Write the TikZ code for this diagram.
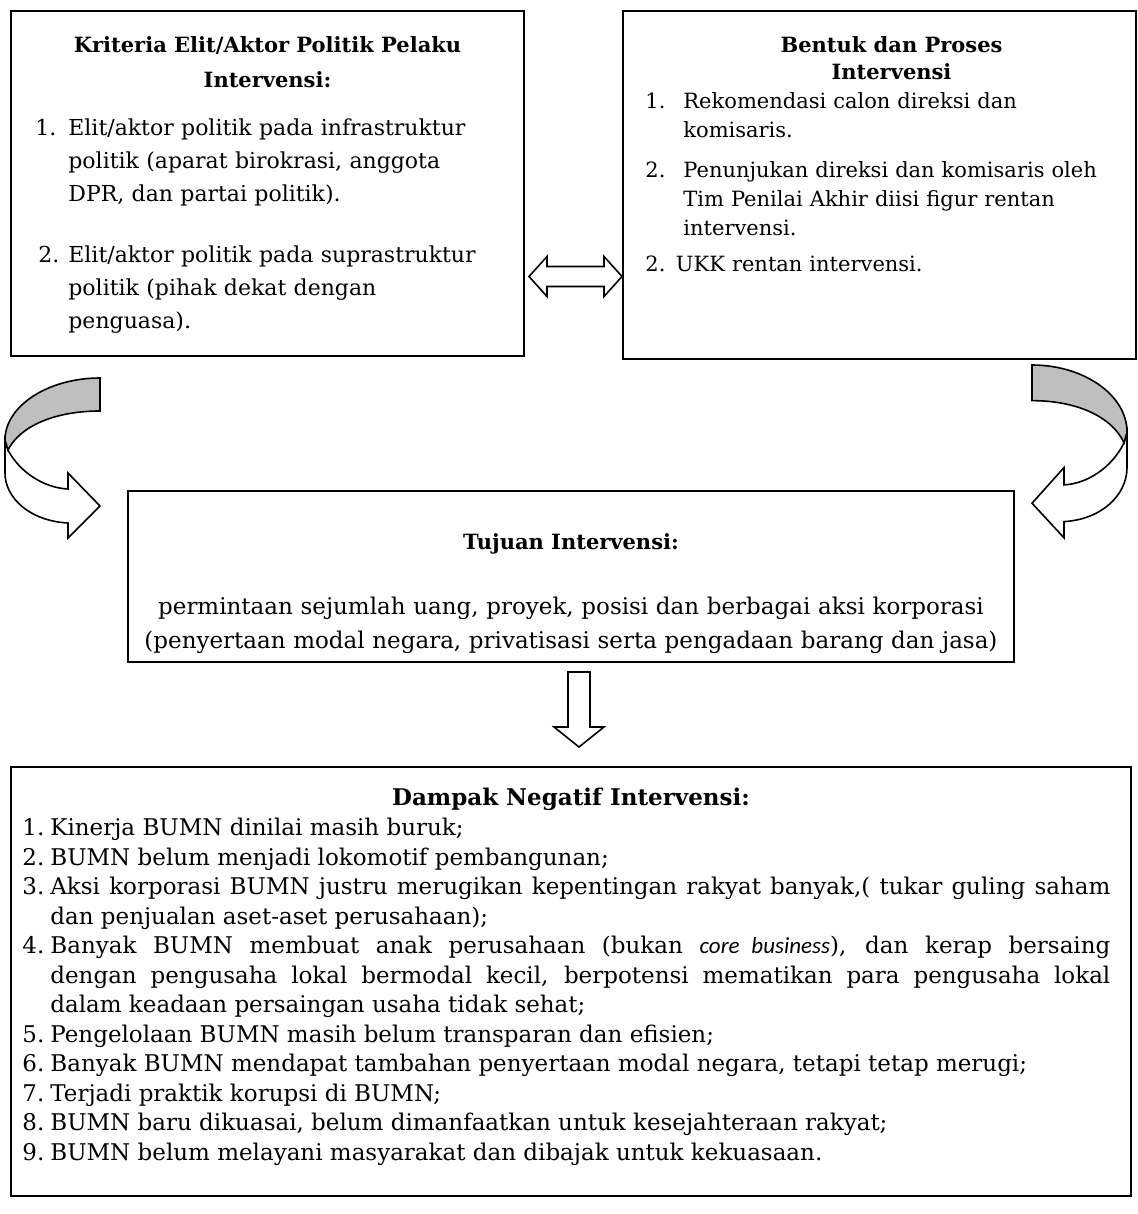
\documentclass[tikz,border=0pt]{standalone}
\usepackage{fontspec}
\setmainfont{DejaVu Serif}
\setsansfont{Carlito}
\usetikzlibrary{positioning}

% numbered line with hanging indent: width, number, text
\newcommand{\numline}[3]{\par\noindent\hangindent=#1\hangafter=1\makebox[#1][l]{#2}#3\par}
% curved 3d arrow, tail at (0,0), head pointing right
\newcommand{\bentarrow}{%
 \filldraw[fill=white] (-92,72) .. controls (-80,95) and (-55,110) .. (-32,111) -- (-32,95) -- (0,128)
   -- (-32,160) -- (-32,145) .. controls (-70,143) and (-95,120) .. (-95,95) -- (-95,62) -- cycle;
 \filldraw[fill=black!25] (0,0) .. controls (-52,0) and (-95,28) .. (-95,62) -- (-92,72)
   .. controls (-80,48) and (-45,33) .. (0,33) -- cycle;
}

\begin{document}
\begin{tikzpicture}[x=0.5pt,y=-0.5pt,
 box/.style={draw, line width=1pt, anchor=north west, inner sep=0pt},
 heading/.style={font=\bfseries\fontsize{10.5}{13.5}\selectfont, align=center, inner sep=0pt, anchor=north},
 body/.style={inner sep=0pt, anchor=north west, align=left},
 blockarrow/.style={draw, line width=0.8pt, fill=white}]
\useasboundingbox (0,0) rectangle (1137,1214);

% the four boxes
\node[box, minimum width=256.5pt, minimum height=172.5pt] (kriteria) at (10,10) {};
\node[box, minimum width=256.5pt, minimum height=174pt] (bentuk) at (622,10) {};
\node[box, minimum width=443pt, minimum height=85.5pt] (tujuan) at (127,490) {};
\node[box, minimum width=560pt, minimum height=214.5pt] (dampak) at (10,766) {};

% upper left box
\node[heading, font=\bfseries\fontsize{10.5}{17.5}\selectfont, below=13pt of kriteria.north] (kriteriahead)
 {Kriteria Elit/Aktor Politik Pelaku\\Intervensi:};
\node[body, text width=235pt, font=\fontsize{11}{16.5}\selectfont] (kriterialist)
 at ([shift={(25,92)}]kriteria.north west) {%
 \numline{16.5pt}{1.}{Elit/aktor politik pada infrastruktur\newline politik (aparat birokrasi, anggota\newline DPR, dan partai politik).}
 \vspace{14pt}
 \numline{16.5pt}{\hspace{1.5pt}2.}{Elit/aktor politik pada suprastruktur\newline politik (pihak dekat dengan\newline penguasa).}};

% upper right box
\node[heading, xshift=6pt, below=13pt of bentuk.north] (bentukhead) {Bentuk dan Proses\\Intervensi};
\node[body, text width=245pt, font=\fontsize{10.5}{14.5}\selectfont] (bentuklist)
 at ([shift={(23,69)}]bentuk.north west) {%
 \numline{19pt}{1.}{Rekomendasi calon direksi dan\newline komisaris.}
 \vspace{5.5pt}
 \numline{19pt}{2.}{Penunjukan direksi dan komisaris oleh\newline Tim Penilai Akhir diisi figur rentan\newline intervensi.}
 \vspace{3.5pt}
 \noindent 2. UKK rentan intervensi.};

% middle box
\node[heading, below=21.5pt of tujuan.north] (tujuanhead) {Tujuan Intervensi:};
\node[body, align=center, text width=443pt, font=\fontsize{11.5}{17}\selectfont, below=53.5pt of tujuan.north] (tujuanbody)
 {permintaan sejumlah uang, proyek, posisi dan berbagai aksi korporasi\\(penyertaan modal negara, privatisasi serta pengadaan barang dan jasa)};

% lower box
\node[heading, font=\bfseries\fontsize{11.5}{14.75}\selectfont, below=11pt of dampak.north] (dampakhead) {Dampak Negatif Intervensi:};
\node[body, align=justify, text width=544pt, font=\fontsize{11.5}{14.75}\selectfont] (dampaklist)
 at ([shift={(12,40)}]dampak.north west) {%
 \numline{14pt}{1.}{Kinerja BUMN dinilai masih buruk;}
 \numline{14pt}{2.}{BUMN belum menjadi lokomotif pembangunan;}
 \numline{14pt}{3.}{Aksi korporasi BUMN justru merugikan kepentingan rakyat banyak,( tukar guling saham\linebreak
  dan penjualan aset-aset perusahaan);}
 \numline{14pt}{4.}{Banyak BUMN membuat anak perusahaan (bukan \textsf{\itshape core business}), dan kerap bersaing\linebreak
  dengan pengusaha lokal bermodal kecil, berpotensi mematikan para pengusaha lokal\linebreak
  dalam keadaan persaingan usaha tidak sehat;}
 \numline{14pt}{5.}{Pengelolaan BUMN masih belum transparan dan efisien;}
 \numline{14pt}{6.}{Banyak BUMN mendapat tambahan penyertaan modal negara, tetapi tetap merugi;}
 \numline{14pt}{7.}{Terjadi praktik korupsi di BUMN;}
 \numline{14pt}{8.}{BUMN baru dikuasai, belum dimanfaatkan untuk kesejahteraan rakyat;}
 \numline{14pt}{9.}{BUMN belum melayani masyarakat dan dibajak untuk kekuasaan.}};

% double arrow between the upper boxes
\coordinate (dbl) at ([shift={(4,93)}]kriteria.east);
\draw[blockarrow] (dbl) -- ++(18,-20) -- ++(0,10) -- ++(57,0) -- ++(0,-10) -- ++(18,20)
 -- ++(-18,20) -- ++(0,-10) -- ++(-57,0) -- ++(0,10) -- cycle;

% down arrow to the lower box
\coordinate (down) at ([shift={(8,9)}]tujuan.south);
\draw[blockarrow] (down) ++(-11,0) -- ++(22,0) -- ++(0,55) -- ++(14,0) -- ++(-25,20)
 -- ++(-25,-20) -- ++(14,0) -- cycle;

% curved arrows into the middle box
\begin{scope}[shift={(100,378)}, line width=0.8pt]
 \bentarrow
\end{scope}
\begin{scope}[shift={(1032,365)}, xscale=-1, yscale=1.08, line width=0.8pt]
 \bentarrow
\end{scope}
\end{tikzpicture}
\end{document}
